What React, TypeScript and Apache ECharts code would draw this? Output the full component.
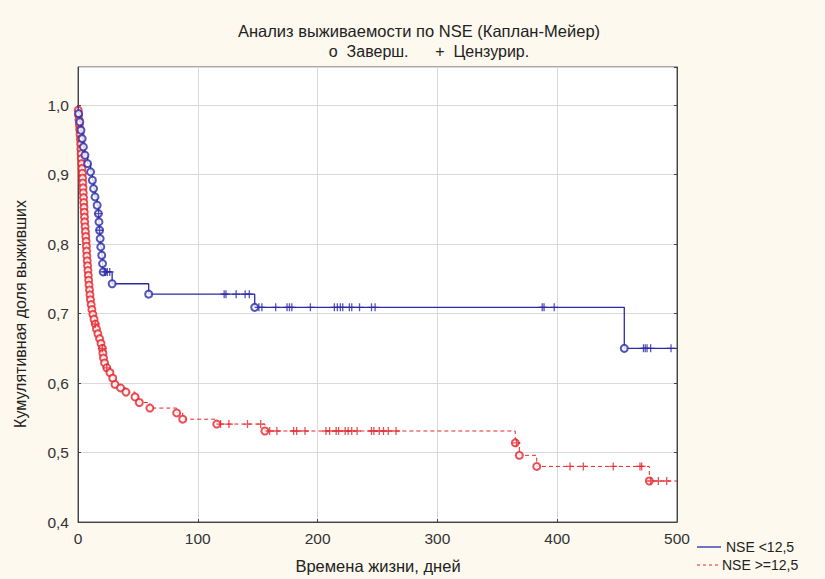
import React, { useEffect, useRef } from "react";
import * as echarts from "echarts";

// Kaplan-Meier data: [time, survival]
const blueEvents: number[][] = [
  [0.5, 0.988], [1.5, 0.976], [2.5, 0.964], [3.5, 0.952], [4.5, 0.94], [5.8, 0.928],
  [8, 0.916], [10.5, 0.904], [12, 0.892], [13, 0.88], [14.2, 0.868], [16, 0.856],
  [17, 0.844], [17.5, 0.832], [18, 0.82], [18.5, 0.808], [19, 0.796], [19.8, 0.784],
  [20.5, 0.772], [21, 0.76], [28.5, 0.743], [59, 0.728], [147.5, 0.709], [456, 0.65],
];
const blueCensors: number[][] = [
  [17.2, 0.844], [18, 0.82], [22, 0.76], [23, 0.76], [24.5, 0.76], [26.5, 0.76],
  [122, 0.728], [123.5, 0.728], [132, 0.728], [139.5, 0.728], [143, 0.728],
  [151, 0.709], [153.5, 0.709], [165, 0.709], [174.5, 0.709], [176.5, 0.709], [178.5, 0.709],
  [194, 0.709], [214, 0.709], [216.5, 0.709], [219, 0.709], [221, 0.709], [226.5, 0.709],
  [228.5, 0.709], [235, 0.709], [245, 0.709], [248, 0.709], [387.5, 0.709], [389, 0.709],
  [397.5, 0.709], [472, 0.65], [473.5, 0.65], [475, 0.65], [478, 0.65], [495, 0.65],
];
const redEvents: number[][] = [
  [0.2, 0.993], [0.5, 0.986], [0.8, 0.979], [1.1, 0.972], [1.4, 0.965], [1.7, 0.958],
  [2.0, 0.951], [2.2, 0.944], [2.4, 0.937], [2.6, 0.93], [2.8, 0.923], [3.0, 0.916],
  [3.3, 0.909], [3.6, 0.902], [3.8, 0.895], [4.0, 0.888], [4.2, 0.881], [4.4, 0.874],
  [4.6, 0.867], [4.8, 0.86], [5.0, 0.853], [5.2, 0.846], [5.4, 0.839], [5.6, 0.832],
  [5.9, 0.825], [6.2, 0.818], [6.5, 0.811], [6.8, 0.804], [7.0, 0.797], [7.2, 0.79],
  [7.4, 0.783], [7.7, 0.776], [8.0, 0.769], [8.3, 0.762], [8.6, 0.755], [8.9, 0.748],
  [9.2, 0.741], [9.6, 0.734], [10.0, 0.727], [10.4, 0.72], [11.0, 0.713], [11.6, 0.706],
  [12.4, 0.699], [13.4, 0.692], [14.4, 0.685], [15.4, 0.678], [16.6, 0.671], [18.0, 0.664],
  [19.2, 0.657], [20.3, 0.65], [20.8, 0.643], [21.3, 0.636], [22.2, 0.629], [24.0, 0.622],
  [26.7, 0.615], [29.0, 0.607], [30.9, 0.598], [35.5, 0.593], [40.0, 0.587], [47.6, 0.58],
  [51.2, 0.572], [60.0, 0.564], [82.4, 0.557], [87.4, 0.548], [115.8, 0.541], [156.0, 0.531],
  [365.0, 0.514], [368.4, 0.496], [382.9, 0.48], [476.9, 0.459],
];
const redCensors: number[][] = [
  [14.4, 0.685], [20.3, 0.65], [24.0, 0.622], [119, 0.541], [126, 0.541], [141.5, 0.541],
  [152.5, 0.541], [160, 0.531], [166, 0.531], [180, 0.531], [182.5, 0.531], [189.5, 0.531],
  [207, 0.531], [210, 0.531], [215.5, 0.531], [217.5, 0.531], [223, 0.531], [225.5, 0.531],
  [228.5, 0.531], [233, 0.531], [245, 0.531], [247, 0.531], [251.5, 0.531], [255, 0.531],
  [259, 0.531], [265.5, 0.531], [366, 0.514], [410.7, 0.48], [421.8, 0.48], [446.8, 0.48],
  [469.1, 0.48], [470.5, 0.48], [478, 0.459], [484.4, 0.459], [491.4, 0.459],
];
const xTicks = [0, 100, 200, 300, 400, 500];
const xMax = 500;

const BLUE = "#2a2aa8";
const RED = "#e3262c";
const FONT = "'Liberation Sans', Arial, sans-serif";
const CROSS = "path://M5,0 L5,10 M0,5 L10,5";

function stepLine(events: number[][]): number[][] {
  const last = events[events.length - 1][1];
  return [[0, 1], ...events, [xMax, last]];
}

export default function App() {
  const ref = useRef<HTMLDivElement>(null);
  useEffect(() => {
    document.body.style.margin = "0";
    const chart = echarts.init(ref.current!, null, { renderer: "svg" });
    chart.setOption({
      animation: false,
      backgroundColor: "#fdf9ee",
      grid: {
        left: 78, right: 148, top: 67, bottom: 57,
        show: true, backgroundColor: "#ffffff", borderColor: "#555", borderWidth: 1,
      },
      xAxis: {
        type: "value", min: 0, max: xMax, interval: 100,
        axisLine: { show: true, lineStyle: { color: "#444" } },
        axisTick: { show: true, inside: true, length: 3, lineStyle: { color: "#444" } },
        axisLabel: { color: "#333", fontSize: 15.5, fontFamily: FONT, margin: 8,
          formatter: (v: number) => (xTicks.includes(v) ? String(v) : "") },
        splitLine: { show: true, lineStyle: { color: "#d9d9d9" } },
      },
      yAxis: [
        {
          type: "value", min: 0.4, max: 1.055, interval: 0.1,
          axisLine: { show: true, lineStyle: { color: "#444" } },
          axisTick: { show: true, inside: true, length: 3, lineStyle: { color: "#444" } },
          axisLabel: { color: "#333", fontSize: 15.5, fontFamily: FONT, margin: 9, showMaxLabel: false,
            formatter: (v: number) => v.toFixed(1).replace(".", ",") },
          splitLine: { show: true, lineStyle: { color: "#d9d9d9" } },
        },
        {
          type: "value", min: 0.4, max: 1.055, interval: 0.1, position: "right",
          axisLine: { show: true, lineStyle: { color: "#444" } },
          axisTick: { show: true, inside: true, length: 3, lineStyle: { color: "#444" } },
          axisLabel: { show: false },
          splitLine: { show: false },
        },
      ],
      graphic: [
        { type: "text", x: 419, y: 31, style: { text: "Анализ выживаемости по NSE (Каплан-Мейер)",
          font: `16.5px ${FONT}`, fill: "#222", textAlign: "center", textVerticalAlign: "middle" } },
        { type: "text", x: 429, y: 51, style: { text: "o  Заверш.      +  Цензурир.",
          font: `16px ${FONT}`, fill: "#222", textAlign: "center", textVerticalAlign: "middle" } },
        { type: "text", x: 20, y: 314, rotation: Math.PI / 2, style: { text: "Кумулятивная доля выживших",
          font: `16px ${FONT}`, fill: "#222", textAlign: "center", textVerticalAlign: "middle" } },
        { type: "text", x: 378, y: 566, style: { text: "Времена жизни, дней",
          font: `16.5px ${FONT}`, fill: "#222", textAlign: "center", textVerticalAlign: "middle" } },
        { type: "line", shape: { x1: 697, y1: 547, x2: 721, y2: 547 }, style: { stroke: BLUE, lineWidth: 1.3 } },
        { type: "text", x: 726, y: 547, style: { text: "NSE <12,5",
          font: `14px ${FONT}`, fill: "#222", textAlign: "left", textVerticalAlign: "middle" } },
        { type: "line", shape: { x1: 697, y1: 565, x2: 721, y2: 565 }, style: { stroke: RED, lineWidth: 1, lineDash: [3, 3] } },
        { type: "text", x: 722, y: 565, style: { text: "NSE >=12,5",
          font: `14px ${FONT}`, fill: "#222", textAlign: "left", textVerticalAlign: "middle" } },
      ],
      series: [
        { type: "line", step: "end", data: stepLine(redEvents), showSymbol: false, symbol: "none",
          lineStyle: { color: RED, width: 1, type: [4, 3] }, z: 2 },
        { type: "scatter", data: redEvents, symbol: "emptyCircle", symbolSize: 7,
          itemStyle: { color: RED, borderColor: RED, borderWidth: 1.2 }, z: 3 },
        { type: "scatter", data: redCensors, symbol: CROSS, symbolSize: 8,
          itemStyle: { color: "transparent", borderColor: RED, borderWidth: 1.3 }, z: 3 },
        { type: "line", step: "end", data: stepLine(blueEvents), showSymbol: false, symbol: "none",
          lineStyle: { color: BLUE, width: 1.3 }, z: 4 },
        { type: "scatter", data: blueEvents, symbol: "emptyCircle", symbolSize: 7,
          itemStyle: { color: BLUE, borderColor: BLUE, borderWidth: 1.2 }, z: 5 },
        { type: "scatter", data: blueCensors, symbol: CROSS, symbolSize: 8,
          itemStyle: { color: "transparent", borderColor: BLUE, borderWidth: 1.3 }, z: 5 },
      ],
    });
    return () => chart.dispose();
  }, []);
  return <div ref={ref} style={{ width: 825, height: 579 }} />;
}
